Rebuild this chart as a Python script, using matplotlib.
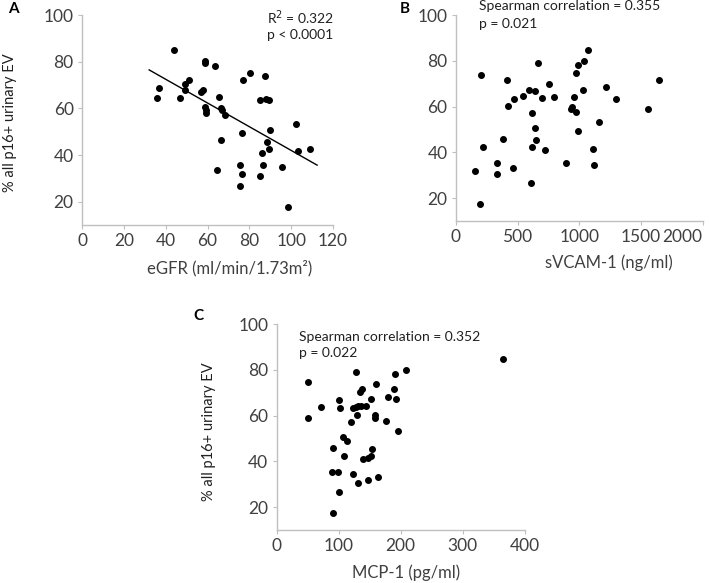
import matplotlib
matplotlib.use("Agg")
import matplotlib.pyplot as plt
import numpy as np

plt.rcParams['font.family'] = ['Lato', 'DejaVu Sans']

# Panel A: eGFR vs % p16+ urinary EV
egfr = [35.8, 36.6, 44.2, 46.9, 49.0, 49.3, 51.2, 56.9, 57.7, 58.8, 59.0, 58.8,
        59.1, 59.5, 63.6, 64.4, 65.5, 66.3, 66.8, 66.6, 68.5, 76.8, 80.1, 76.3,
        75.5, 76.6, 75.5, 85.2, 87.3, 87.8, 89.5, 89.9, 88.6, 89.5, 85.9, 86.5,
        85.2, 95.4, 98.7, 102.2, 103.2, 108.9]
p16_a = [64.4, 68.7, 85.0, 64.4, 70.4, 67.7, 72.0, 67.0, 67.7, 80.3, 79.4, 60.7,
         59.3, 58.1, 78.4, 33.6, 64.9, 60.4, 59.3, 46.4, 57.4, 72.0, 75.1, 49.3,
         35.6, 32.1, 26.9, 63.7, 74.0, 64.0, 63.7, 50.9, 45.7, 42.6, 41.1, 35.7,
         31.0, 34.7, 17.7, 53.4, 41.9, 42.6]
trend_x = [32.1, 112.4]

# Panel B: sVCAM-1
svcam = [156, 202, 197, 219, 335, 335, 381, 416, 421, 459, 472, 542, 591, 642,
         669, 613, 642, 650, 613, 605, 694, 723, 756, 799, 893, 937, 945, 961,
         974, 977, 993, 991, 1039, 1028, 1074, 1112, 1120, 1158, 1220, 1296,
         1557, 1649]
p16_b = [31.7, 73.7, 17.2, 42.3, 35.2, 30.7, 46.0, 71.8, 60.3, 33.1, 63.5, 64.5,
         67.3, 66.7, 79.1, 57.1, 50.7, 45.4, 42.5, 26.6, 63.9, 40.9, 70.1, 64.2,
         35.5, 58.8, 60.0, 64.2, 74.9, 57.8, 78.1, 49.2, 80.1, 67.4, 84.7, 41.6,
         34.5, 53.1, 68.5, 63.5, 58.8, 71.8]

# Panel C: MCP-1
mcp = [50, 50, 72.1, 90.4, 88.8, 90.4, 99.6, 100.1, 100.7, 102.3, 107.1, 108.2,
       114.1, 119.5, 122.8, 123.8, 128.7, 128.1, 130.3, 130.8, 131.9, 134.6,
       136.2, 137.8, 138.9, 143.8, 148, 148, 151.8, 152.4, 154.5, 158.8, 159.4,
       160.4, 163.1, 176, 179.3, 190, 191.1, 192.7, 196, 208.9, 364.5]
p16_c = [74.9, 58.8, 63.9, 17.4, 35.3, 46.0, 35.3, 26.6, 66.7, 63.5, 50.7, 42.3,
         49.1, 57.1, 34.3, 63.5, 79.1, 63.8, 60.4, 30.5, 64.1, 70.2, 64.4, 71.5,
         40.9, 64.1, 31.7, 41.5, 42.2, 67.4, 45.4, 60.3, 59.1, 73.7, 33.1, 57.8,
         68.3, 71.7, 78.1, 67.3, 53.1, 80.1, 84.7]

ylabel = '% all p16+ urinary EV'
axis_gray = '#bfbfbf'
text_col = '#404040'

fig = plt.figure(figsize=(7.09, 5.83), dpi=100)

def style_axes(ax, xlim, xticks, xlabel, xlabel_pos, ylabel_pos=None):
    ax.set_xlim(xlim)
    ax.set_ylim(10, 100)
    ax.set_xticks(xticks)
    ax.set_yticks([20, 40, 60, 80, 100])
    for side in ['top', 'right']:
        ax.spines[side].set_visible(False)
    for side in ['left', 'bottom']:
        ax.spines[side].set_color(axis_gray)
        ax.spines[side].set_linewidth(1.0)
    ax.tick_params(colors=axis_gray, labelcolor=text_col, labelsize=12.5,
                   length=3, direction='out', pad=3)
    ax.set_xlabel(xlabel, fontsize=12, color=text_col)
    ax.xaxis.set_label_coords(xlabel_pos, -0.165)
    if ylabel_pos is not None:
        ax.set_ylabel(ylabel, fontsize=10.5, color='#202020')
        ax.yaxis.set_label_coords(*ylabel_pos)

# A
ax_a = fig.add_axes([0.1157, 0.614, 0.354, 0.360])
ax_a.scatter(egfr, p16_a, s=16, color='black', zorder=3)
slope, intercept = np.polyfit(egfr, p16_a, 1)
tx = np.array(trend_x)
ax_a.plot(tx, slope * tx + intercept, color='black', lw=1.0)
style_axes(ax_a, (0, 120), [0, 20, 40, 60, 80, 100, 120],
           'eGFR (ml/min/1.73m²)', 0.59, (-0.259, 0.488))
ax_a.text(0.737, 0.986, 'R$^2$ = 0.322', transform=ax_a.transAxes,
          fontsize=10, color='#202020', va='center')
ax_a.text(0.737, 0.905, 'p < 0.0001', transform=ax_a.transAxes,
          fontsize=10, color='#202020', va='center')

# B
ax_b = fig.add_axes([0.643, 0.621, 0.348, 0.353])
ax_b.scatter(svcam, p16_b, s=16, color='black', zorder=3)
style_axes(ax_b, (0, 2000), [0, 500, 1000, 1500, 2000],
           'sVCAM-1 (ng/ml)', 0.62)
ax_b.get_xticklabels()[-1].set_horizontalalignment('right')
ax_b.text(0.093, 1.044, 'Spearman correlation = 0.355', transform=ax_b.transAxes,
          fontsize=10, color='#202020', va='center')
ax_b.text(0.093, 0.956, 'p = 0.021', transform=ax_b.transAxes,
          fontsize=10, color='#202020', va='center')

# C
ax_c = fig.add_axes([0.390, 0.0909, 0.350, 0.353])
ax_c.scatter(mcp, p16_c, s=16, color='black', zorder=3)
style_axes(ax_c, (0, 400), [0, 100, 200, 300, 400],
           'MCP-1 (pg/ml)', 0.524, (-0.242, 0.476))
ax_c.text(0.089, 0.937, 'Spearman correlation = 0.352', transform=ax_c.transAxes,
          fontsize=10, color='#202020', va='center')
ax_c.text(0.089, 0.859, 'p = 0.022', transform=ax_c.transAxes,
          fontsize=10, color='#202020', va='center')

# panel letters
fig.text(8 / 709, 1 - 9 / 583, 'A', fontsize=11, fontweight='bold', va='center')
fig.text(400 / 709, 1 - 9 / 583, 'B', fontsize=11, fontweight='bold', va='center')
fig.text(193 / 709, 1 - 316 / 583, 'C', fontsize=11, fontweight='bold', va='center')

fig.savefig('out.png', dpi=100)
